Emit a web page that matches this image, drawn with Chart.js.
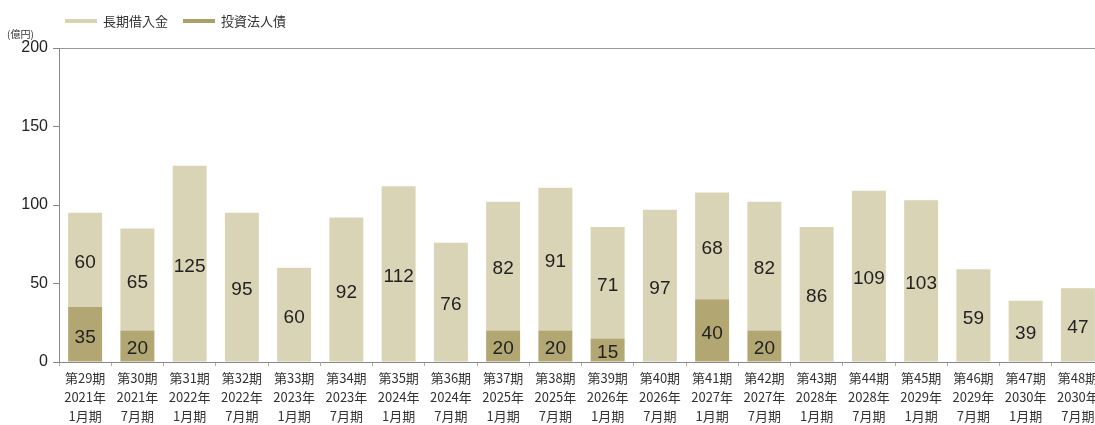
<!DOCTYPE html>
<html>
<head>
<meta charset="utf-8">
<script src="https://cdn.jsdelivr.net/npm/chart.js@4/dist/chart.umd.min.js"></script>
<style>
  body { margin:0; background:#fff; overflow:hidden; width:1095px; height:425px; position:relative; }
  #wrap { position:absolute; left:0; top:0; width:1110px; height:425px; }
  .unit { position:absolute; left:7px; top:26px; font:10px "Noto Sans CJK JP", sans-serif; color:#333; }
  .legend { position:absolute; top:11px; font:13px "Noto Sans CJK JP", sans-serif; color:#333; display:flex; align-items:center; }
  .legend span.sw { display:inline-block; width:32px; height:4px; margin-right:6px; }
</style>
</head>
<body>
<div id="wrap"><canvas id="debtChart" width="1110" height="425"></canvas></div>
<div class="unit">(億円)</div>
<div class="legend" style="left:65px"><span class="sw" style="background:#d8d4b2"></span>長期借入金</div>
<div class="legend" style="left:183px"><span class="sw" style="background:#aaa066"></span>投資法人債</div>
<script>
// ===============================
// Data
// ===============================

const periods = ["第29期","第30期","第31期","第32期","第33期","第34期","第35期","第36期","第37期","第38期",
                 "第39期","第40期","第41期","第42期","第43期","第44期","第45期","第46期","第47期","第48期"];
const years = ["2021年","2021年","2022年","2022年","2023年","2023年","2024年","2024年","2025年","2025年",
               "2026年","2026年","2027年","2027年","2028年","2028年","2029年","2029年","2030年","2030年"];
const months = ["1月期","7月期","1月期","7月期","1月期","7月期","1月期","7月期","1月期","7月期",
                "1月期","7月期","1月期","7月期","1月期","7月期","1月期","7月期","1月期","7月期"];

const loans = [60,65,125,95,60,92,112,76,82,91,71,97,68,82,86,109,103,59,39,47];
const bonds = [35,20,0,0,0,0,0,0,20,20,15,0,40,20,0,0,0,0,0,0];

const yTicks = [0,50,100,150,200];

// ===============================
// Value labels
// ===============================

const valueLabels = {
    id:"valueLabels",
    afterDatasetsDraw(chart){
        const ctx = chart.ctx;
        ctx.save();
        ctx.font = '19px "Liberation Sans", Arial, sans-serif';
        ctx.fillStyle = "#222";
        ctx.textAlign = "center";
        ctx.textBaseline = "middle";
        chart.data.datasets.forEach((ds,i)=>{
            chart.getDatasetMeta(i).data.forEach((bar,j)=>{
                const v = ds.data[j];
                if(!v) return;
                ctx.fillText(String(v), bar.x, (bar.y + bar.base)/2 + 3);
            });
        });
        ctx.restore();
    }
};

// ===============================
// Chart
// ===============================

const labels = periods.map((p,i)=>[p, years[i], months[i]]);

new Chart(document.getElementById("debtChart"), {
    type:"bar",
    data:{
        labels:labels,
        datasets:[
            { label:"投資法人債", data:bonds, backgroundColor:"#b2a772" },
            { label:"長期借入金", data:loans, backgroundColor:"#d9d4b6" }
        ]
    },
    options:{
        responsive:false,
        animation:false,
        layout:{ padding:{ top:48, right:6, left:0, bottom:0 } },
        datasets:{ bar:{ categoryPercentage:1, barPercentage:0.65 } },
        plugins:{ legend:{ display:false }, tooltip:{ enabled:false } },
        scales:{
            x:{
                stacked:true,
                afterFit(scale){ scale.height = 63; },
                grid:{ drawOnChartArea:false, tickLength:4, color:"#aaa" },
                border:{ color:"#888" },
                ticks:{ color:"#333", font:{ size:13, family:'"Noto Sans CJK JP", sans-serif', lineHeight:1.45 }, padding:3, maxRotation:0, autoSkip:false }
            },
            y:{
                stacked:true,
                min:0, max:200,
                afterFit(scale){ scale.width = 59; },
                afterBuildTicks(scale){ scale.ticks = yTicks.map(v=>({value:v})); },
                grid:{
                    drawOnChartArea:true,
                    color:(c)=> c.tick && c.tick.value===200 ? "#999" : "rgba(0,0,0,0)",
                    tickColor:"#888",
                    tickLength:6
                },
                border:{ color:"#888" },
                ticks:{ color:"#222", font:{ size:16, family:'"Liberation Sans", Arial, sans-serif' }, padding:5 }
            }
        }
    },
    plugins:[valueLabels]
});
</script>
</body>
</html>
